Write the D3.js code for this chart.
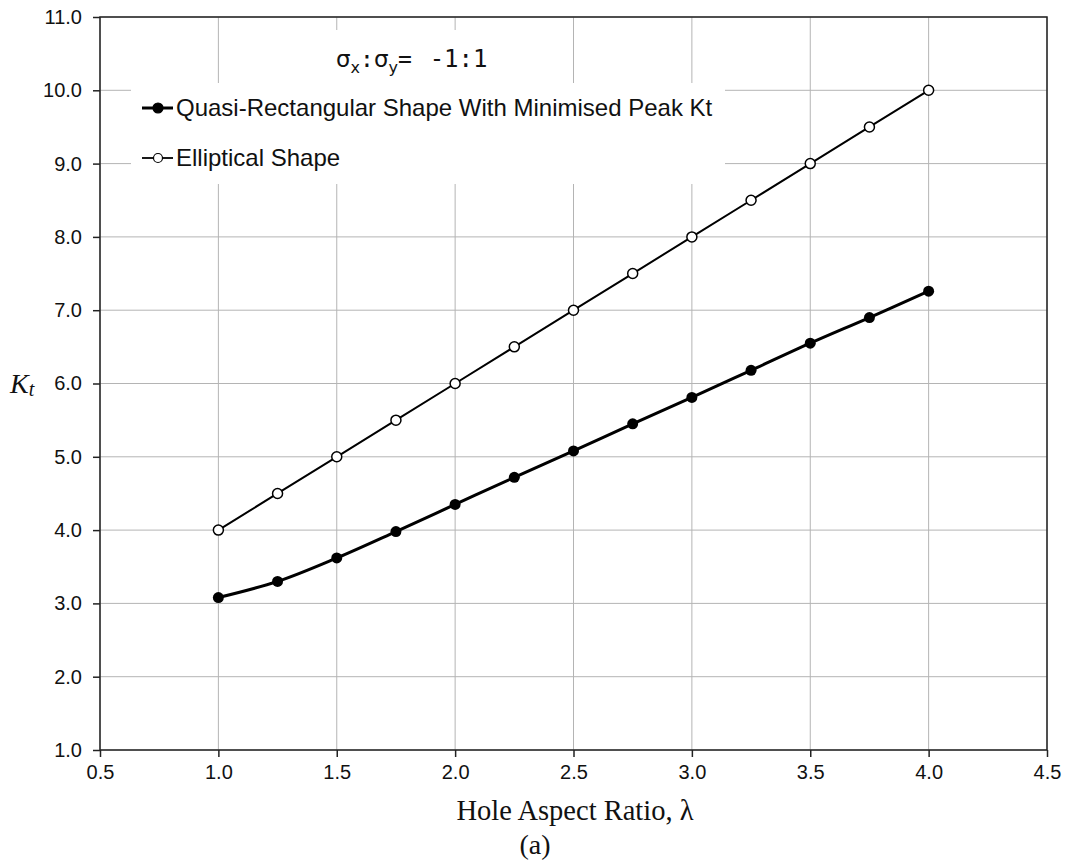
<!doctype html>
<html lang="en">
	<head>
		<meta charset="utf-8">
		<title>Kt vs hole aspect ratio</title>
		<script src="https://d3js.org/d3.v7.min.js"></script>
		<style>
			body { margin: 0; background: #fff; }
			.grid line { stroke: #b4b4b4; stroke-width: 1px; }
			.axis path, .axis line { stroke: #222; stroke-width: 1.5px; }
		</style>
	</head>
	<body>
		<div id="chart"></div>

		<script>
			// aspect ratio (lambda) values
			let lambda = [1.0, 1.25, 1.5, 1.75, 2.0, 2.25, 2.5, 2.75, 3.0, 3.25, 3.5, 3.75, 4.0]
			// quasi-rectangular shape, minimised peak Kt
			let quasiKt = [3.08, 3.30, 3.62, 3.98, 4.35, 4.72, 5.08, 5.45, 5.81, 6.18, 6.55, 6.90, 7.26]
			// elliptical shape
			let ellipKt = [4.0, 4.5, 5.0, 5.5, 6.0, 6.5, 7.0, 7.5, 8.0, 8.5, 9.0, 9.5, 10.0]

			let xTicks = [0.5, 1.0, 1.5, 2.0, 2.5, 3.0, 3.5, 4.0, 4.5]
			let yTicks = [1, 2, 3, 4, 5, 6, 7, 8, 9, 10, 11]

			let seriesNames = ['Quasi-Rectangular Shape With Minimised Peak Kt', 'Elliptical Shape']

			let width = 1067
			let height = 866
			let margin = {top: 17, right: 20, bottom: 116, left: 100}
			let sans = "'Liberation Sans', Arial, sans-serif"
			let serif = "'Liberation Serif', 'Times New Roman', serif"
			let mono = "'DejaVu Sans Mono', monospace"

			let svg = d3.select('#chart')
				.append('svg')
				.attr('width', width)
				.attr('height', height)

			let x = d3.scaleLinear()
				.domain([0.5, 4.5])
				.range([margin.left, width - margin.right])

			let y = d3.scaleLinear()
				.domain([1, 11])
				.range([height - margin.bottom, margin.top])

			// gridlines
			let grid = svg.append('g').attr('class', 'grid')
			grid.selectAll('.gx')
				.data(xTicks)
				.enter().append('line')
					.attr('x1', d => x(d))
					.attr('x2', d => x(d))
					.attr('y1', y(1))
					.attr('y2', y(11))
			grid.selectAll('.gy')
				.data(yTicks)
				.enter().append('line')
					.attr('x1', x(0.5))
					.attr('x2', x(4.5))
					.attr('y1', d => y(d))
					.attr('y2', d => y(d))

			// white boxes behind annotation and legend hide the grid
			svg.append('rect')
				.attr('x', 302).attr('y', 30)
				.attr('width', 215).attr('height', 53)
				.attr('fill', '#fff')
			svg.append('rect')
				.attr('x', 131).attr('y', 83)
				.attr('width', 594).attr('height', 101)
				.attr('fill', '#fff')

			// frame
			svg.append('rect')
				.attr('x', x(0.5))
				.attr('y', y(11))
				.attr('width', x(4.5) - x(0.5))
				.attr('height', y(1) - y(11))
				.attr('fill', 'none')
				.attr('stroke', '#222')
				.attr('stroke-width', 1.5)

			let xAxis = svg.append('g')
				.attr('class', 'axis')
				.attr('transform', `translate(0,${y(1)})`)
				.call(d3.axisBottom(x)
					.tickValues(xTicks)
					.tickFormat(d3.format('.1f'))
					.tickSize(7)
					.tickPadding(8))
			xAxis.select('.domain').remove()

			let yAxis = svg.append('g')
				.attr('class', 'axis')
				.attr('transform', `translate(${x(0.5)},0)`)
				.call(d3.axisLeft(y)
					.tickValues(yTicks)
					.tickFormat(d3.format('.1f'))
					.tickSize(7)
					.tickPadding(11))
			yAxis.select('.domain').remove()

			svg.selectAll('.axis text')
				.style('font-family', sans)
				.style('font-size', '20px')
				.attr('fill', '#111')

			let quasiData = lambda.map((l, i) => ({x: l, y: quasiKt[i]}))
			let ellipData = lambda.map((l, i) => ({x: l, y: ellipKt[i]}))

			let smooth = d3.line()
				.x(d => x(d.x))
				.y(d => y(d.y))
				.curve(d3.curveCatmullRom.alpha(0.5))

			let straight = d3.line()
				.x(d => x(d.x))
				.y(d => y(d.y))

			svg.append('path')
				.datum(ellipData)
				.attr('d', straight)
				.attr('fill', 'none')
				.attr('stroke', '#000')
				.attr('stroke-width', 2)

			svg.append('path')
				.datum(quasiData)
				.attr('d', smooth)
				.attr('fill', 'none')
				.attr('stroke', '#000')
				.attr('stroke-width', 3)

			svg.append('g')
				.selectAll('circle')
				.data(ellipData)
				.enter().append('circle')
					.attr('cx', d => x(d.x))
					.attr('cy', d => y(d.y))
					.attr('r', 5)
					.attr('fill', '#fff')
					.attr('stroke', '#000')
					.attr('stroke-width', 1.5)

			svg.append('g')
				.selectAll('circle')
				.data(quasiData)
				.enter().append('circle')
					.attr('cx', d => x(d.x))
					.attr('cy', d => y(d.y))
					.attr('r', 5.5)
					.attr('fill', '#000')

			// legend
			let legend = svg.append('g')
			let rows = [
				{name: seriesNames[0], fill: '#000', width: 3, r: 5, y: 108},
				{name: seriesNames[1], fill: '#fff', width: 1.8, r: 4.5, y: 158},
			]
			rows.forEach(row => {
				legend.append('line')
					.attr('x1', 142).attr('x2', 173)
					.attr('y1', row.y).attr('y2', row.y)
					.attr('stroke', '#000')
					.attr('stroke-width', row.width)
				legend.append('circle')
					.attr('cx', 158).attr('cy', row.y)
					.attr('r', row.r)
					.attr('fill', row.fill)
					.attr('stroke', '#000')
					.attr('stroke-width', 1.2)
				legend.append('text')
					.attr('x', 176)
					.attr('y', row.y + 8)
					.style('font-family', sans)
					.style('font-size', '24px')
					.attr('fill', '#111')
					.text(row.name)
			})

			// stress ratio annotation
			let note = svg.append('text')
				.attr('x', 336)
				.attr('y', 67)
				.attr('fill', '#111')
				.style('font-family', "'DejaVu Sans', sans-serif")
				.style('font-size', '23px')
			note.append('tspan').text('σ')
			note.append('tspan').attr('dy', 6).style('font-size', '16px').text('x')
			note.append('tspan').attr('dy', -6).style('font-family', mono).text(':')
			note.append('tspan').text('σ')
			note.append('tspan').attr('dy', 6).style('font-size', '16px').text('y')
			note.append('tspan').attr('dy', -6).style('font-family', mono).text('= ')
			note.append('tspan').attr('dx', 4).style('font-family', mono).style('font-size', '24px').text('-1:1')

			// axis titles
			svg.append('text')
				.attr('x', 575)
				.attr('y', 820)
				.attr('text-anchor', 'middle')
				.style('font-family', serif)
				.style('font-size', '28.5px')
				.attr('fill', '#111')
				.text('Hole Aspect Ratio, λ')

			svg.append('text')
				.attr('x', 535)
				.attr('y', 854)
				.attr('text-anchor', 'middle')
				.style('font-family', serif)
				.style('font-size', '28px')
				.attr('fill', '#111')
				.text('(a)')

			let kt = svg.append('text')
				.attr('x', 10)
				.attr('y', 393)
				.style('font-family', serif)
				.style('font-style', 'italic')
				.style('font-size', '28px')
				.attr('fill', '#111')
			kt.append('tspan').text('K')
			kt.append('tspan').attr('dy', 3).style('font-size', '20px').text('t')
		</script>
	</body>
</html>
